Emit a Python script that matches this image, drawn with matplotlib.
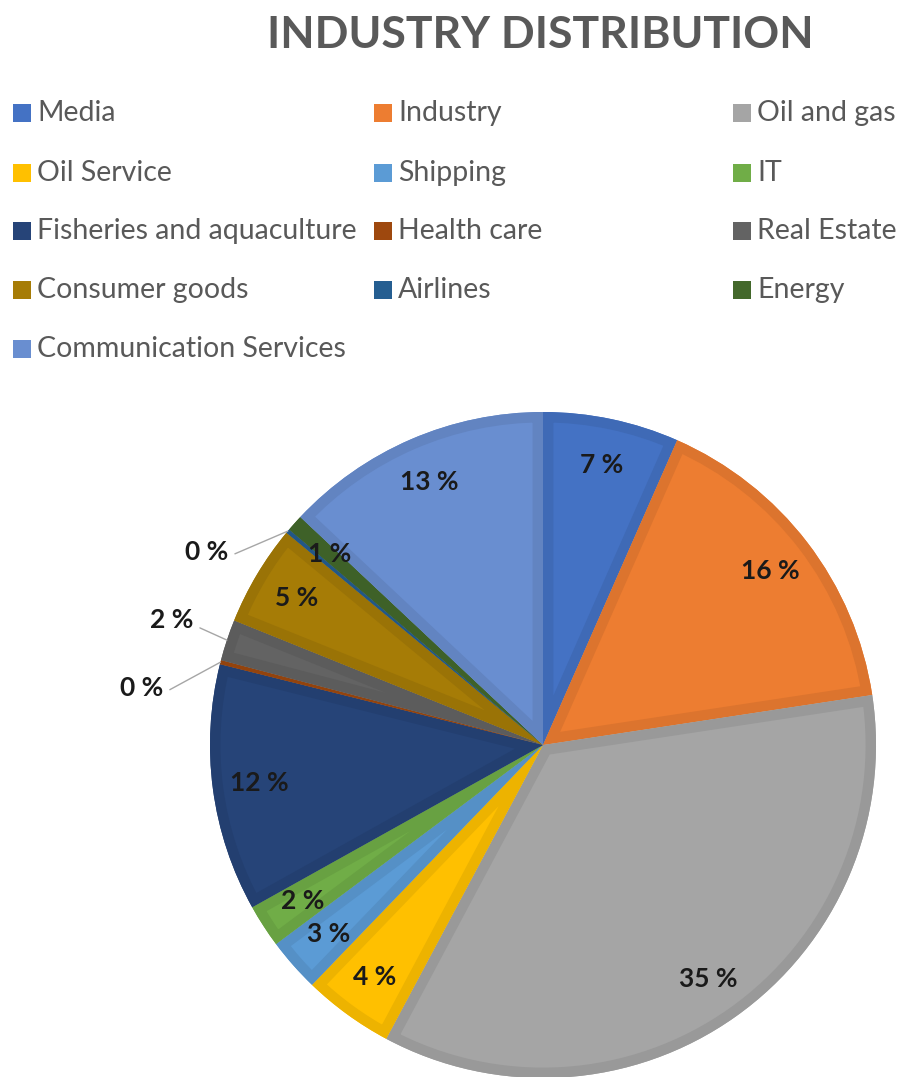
import matplotlib
matplotlib.use("Agg")
import matplotlib.pyplot as plt
import matplotlib.colors as mcolors
from matplotlib.patches import Rectangle, Wedge
import numpy as np

plt.rcParams["font.family"] = ["Lato", "DejaVu Sans"]

# ---- data ----------------------------------------------------------------
categories = [
    "Media", "Industry", "Oil and gas", "Oil Service", "Shipping", "IT",
    "Fisheries and aquaculture", "Health care", "Real Estate",
    "Consumer goods", "Airlines", "Energy", "Communication Services",
]
shares = [6.6, 16.0, 35.2, 4.4, 2.6, 2.1, 12.0, 0.2, 2.0, 4.9, 0.2, 0.8, 13.0]
colors = [
    "#4472C4", "#ED7D31", "#A5A5A5", "#FFC000", "#5B9BD5", "#70AD47",
    "#264478", "#9E480E", "#636363", "#A67C06", "#255E91", "#43682B",
    "#698ED0",
]
# slices whose labels sit outside the pie with a leader line
outside = {"Health care": (-1.14, 0.17),
           "Real Estate": (-1.05, 0.375),
           "Airlines": (-0.945, 0.58)}

W, H = 901, 1077
TEXT = "#595959"


def shade(c, f=0.9):
    r, g, b = mcolors.to_rgb(c)
    return (r * f, g * f, b * f)


fig = plt.figure(figsize=(W / 100, H / 100), dpi=100)

# ---- title ---------------------------------------------------------------
fig.text(540 / W, 1 - 35 / H, "INDUSTRY DISTRIBUTION", ha="center",
         va="center", fontsize=32, fontweight="bold", color=TEXT)

# ---- legend (three equal columns) -----------------------------------------
col_x = [13, 374, 733]
row_y = [113, 173, 231, 290, 349]
sq = 18
for i, (name, c) in enumerate(zip(categories, colors)):
    x = col_x[i % 3]
    y = row_y[i // 3]
    fig.add_artist(Rectangle((x / W, 1 - (y + sq / 2) / H), sq / W, sq / H,
                             transform=fig.transFigure, facecolor=c,
                             edgecolor="none"))
    fig.text((x + sq + 6) / W, 1 - y / H, name, ha="left", va="center",
             fontsize=20.5, color=TEXT)

# ---- pie -----------------------------------------------------------------
R_PX = 333
CX, CY = 543, 745
ax = fig.add_axes([0, 0, 1, (H - 395) / H])
wedges, _ = ax.pie(shares, colors=colors, startangle=90, counterclock=False,
                   radius=1, wedgeprops=dict(linewidth=0))
ax.set_xlim(-CX / R_PX, (W - CX) / R_PX)
ax.set_ylim(-(H - CY) / R_PX, (CY - 395) / R_PX)
ax.set_aspect("equal")
ax.axis("off")

# inner band along each slice's outline
for w, c in zip(wedges, colors):
    band = Wedge(w.center, w.r, w.theta1, w.theta2, facecolor="none",
                 edgecolor=shade(c, 0.93), linewidth=15)
    ax.add_patch(band)
    band.set_clip_path(w)

# percentage labels
cum = np.cumsum([0] + shares[:-1])
for name, v, start in zip(categories, shares, cum):
    mid = np.deg2rad((start + v / 2) / 100 * 360)
    dx, dy = np.sin(mid), np.cos(mid)
    label = f"{v:.0f} %"
    if name in outside:
        tx, ty = outside[name]
        ax.annotate(label, xy=(dx, dy), xytext=(tx, ty), ha="right",
                    va="center", fontsize=19, fontweight="bold",
                    color="#1a1a1a",
                    arrowprops=dict(arrowstyle="-", color="#a6a6a6", lw=1,
                                    shrinkA=3, shrinkB=0,
                                    relpos=(1.0, 0.3)))
    else:
        ax.text(0.86 * dx, 0.86 * dy, label, ha="center", va="center",
                fontsize=19, fontweight="bold", color="#1a1a1a")

fig.savefig("out.png", dpi=100)
